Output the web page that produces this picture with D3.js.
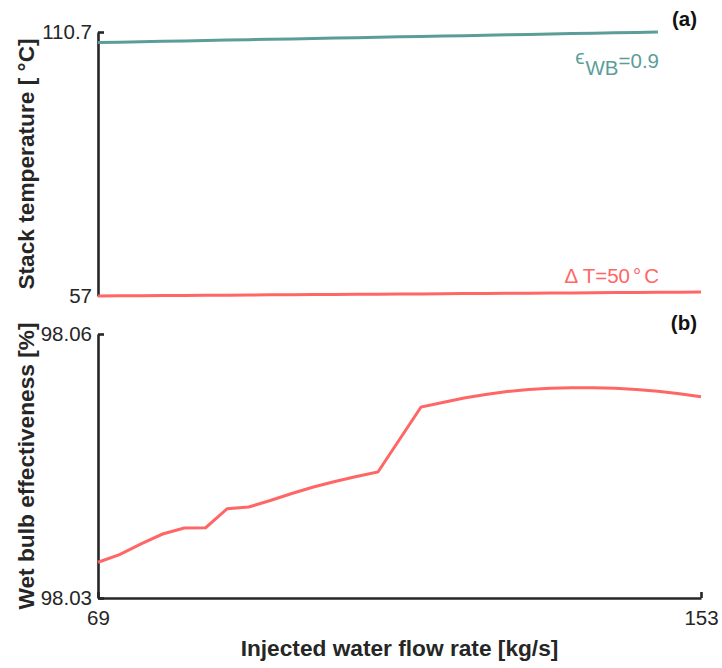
<!DOCTYPE html>
<html>
<head>
<meta charset="utf-8">
<script src="https://cdn.jsdelivr.net/npm/d3@7"></script>
<style>
  html, body { margin: 0; padding: 0; background: #fff; }
  svg { display: block; font-family: "Liberation Sans", Arial, Helvetica, sans-serif; }
</style>
</head>
<body>
<svg id="chart" width="722" height="668"></svg>
<script>
// Injected water flow rate [kg/s]
const flow = [69, 72, 75, 78, 81, 84, 87, 90, 93, 96, 99, 102, 105, 108, 111,
              114, 117, 120, 123, 126, 129, 132, 135, 138, 141, 144, 147, 150, 153];

// Stack temperature [°C] with fixed wet bulb effectiveness (0.9), flow 69..147
const stackTempWB = [108.56, 108.64, 108.72, 108.81, 108.89, 108.97, 109.05, 109.14, 109.22,
                     109.30, 109.38, 109.47, 109.55, 109.63, 109.71, 109.79, 109.88, 109.96,
                     110.04, 110.12, 110.21, 110.29, 110.37, 110.45, 110.54, 110.62, 110.70];

// Stack temperature [°C] with fixed temperature difference (50 °C)
const stackTempDT = [57.00, 57.03, 57.06, 57.09, 57.11, 57.14, 57.17, 57.20, 57.23, 57.26,
                     57.29, 57.31, 57.34, 57.37, 57.40, 57.43, 57.46, 57.49, 57.51, 57.54,
                     57.57, 57.60, 57.63, 57.66, 57.69, 57.71, 57.74, 57.77, 57.80];

// Wet bulb effectiveness [%] with fixed temperature difference
const wetBulbEff = [98.03406, 98.03492, 98.03614, 98.03727, 98.03795, 98.03799, 98.04015, 98.04034,
                    98.04108, 98.04188, 98.04261, 98.04324, 98.04381, 98.04432, 98.04801, 98.05170,
                    98.05222, 98.05273, 98.05313, 98.05347, 98.05369, 98.05383, 98.05389, 98.05390,
                    98.05384, 98.05369, 98.05349, 98.05320, 98.05288];

const xTicks = [69, 153];
const yTopTicks = [57, 110.7];
const yBotTicks = [98.03, 98.06];
const yBotTickLabels = ["98.03", "98.06"];

const teal = "#5b9e99";
const coral = "#ff6666";
const ink = "#262626";

const svg = d3.select("#chart");

const x = d3.scaleLinear().domain([69, 153]).range([98, 701]);
const yTop = d3.scaleLinear().domain([57, 110.7]).range([296, 32]);
const yBot = d3.scaleLinear().domain([98.03, 98.06]).range([598, 334]);

function styleAxis(g) {
  g.select(".domain").attr("stroke", ink).attr("stroke-width", 2.6);
  g.selectAll(".tick line").attr("stroke", ink).attr("stroke-width", 2.6);
  g.selectAll(".tick text").attr("fill", ink).attr("font-size", 20.5);
}

// (a) stack temperature axis
svg.append("g")
  .attr("transform", `translate(${x(69)},0)`)
  .call(d3.axisLeft(yTop).tickValues(yTopTicks).tickSize(-6).tickSizeOuter(0).tickPadding(6)
        .tickFormat(d => String(d)))
  .call(styleAxis)
  .call(g => g.selectAll(".tick").filter(d => d === 57).select("line").remove());

// (b) wet bulb effectiveness axes
svg.append("g")
  .attr("transform", `translate(${x(69)},0)`)
  .call(d3.axisLeft(yBot).tickValues(yBotTicks).tickSize(-6).tickSizeOuter(0).tickPadding(6)
        .tickFormat((d, i) => yBotTickLabels[i]))
  .call(styleAxis);

svg.append("g")
  .attr("transform", `translate(0,${yBot(98.03)})`)
  .call(d3.axisBottom(x).tickValues(xTicks).tickSize(-6).tickSizeOuter(0).tickPadding(12)
        .tickFormat(d => String(d)))
  .call(styleAxis);

// series lines
const lineTopWB = d3.line().x((d, i) => x(flow[i])).y(d => yTop(d));
const lineTopDT = d3.line().x((d, i) => x(flow[i])).y(d => yTop(d));
const lineBot = d3.line().x((d, i) => x(flow[i])).y(d => yBot(d));

svg.append("path").datum(stackTempWB)
  .attr("d", lineTopWB).attr("fill", "none").attr("stroke", teal).attr("stroke-width", 3);
svg.append("path").datum(stackTempDT)
  .attr("d", lineTopDT).attr("fill", "none").attr("stroke", coral).attr("stroke-width", 3);
svg.append("path").datum(wetBulbEff)
  .attr("d", lineBot).attr("fill", "none").attr("stroke", coral).attr("stroke-width", 3)
  .attr("stroke-linejoin", "miter");

// line annotations
const annWB = svg.append("text").attr("x", 659).attr("y", 68)
  .attr("text-anchor", "end").attr("fill", teal).attr("font-size", 20.5);
annWB.append("tspan").text("ϵ").attr("font-size", 21).attr("dy", -4);
annWB.append("tspan").text("WB").attr("dy", 11).attr("dx", 1);
annWB.append("tspan").text("=0.9").attr("dy", -7);

const annDT = svg.append("text").attr("x", 659).attr("y", 283)
  .attr("text-anchor", "end").attr("fill", coral).attr("font-size", 20.5);
annDT.append("tspan").text("Δ T=50");
annDT.append("tspan").text("°").attr("dx", 3);
annDT.append("tspan").text("C").attr("dx", 3);

// panel tags
svg.append("text").attr("x", 697).attr("y", 26).attr("text-anchor", "end")
  .attr("font-size", 20.5).attr("font-weight", "bold").attr("fill", "#111").text("(a)");
svg.append("text").attr("x", 697).attr("y", 330).attr("text-anchor", "end")
  .attr("font-size", 20.5).attr("font-weight", "bold").attr("fill", "#111").text("(b)");

// axis titles
svg.append("text")
  .attr("transform", `translate(34,${(yTop(57) + yTop(110.7)) / 2}) rotate(-90)`)
  .attr("text-anchor", "middle").attr("font-size", 22.7).attr("font-weight", "bold").attr("fill", ink)
  .text("Stack temperature [ °C]");
svg.append("text")
  .attr("transform", `translate(34,${(yBot(98.03) + yBot(98.06)) / 2}) rotate(-90)`)
  .attr("text-anchor", "middle").attr("font-size", 22.7).attr("font-weight", "bold").attr("fill", ink)
  .text("Wet bulb effectiveness [%]");
svg.append("text")
  .attr("x", (x(69) + x(153)) / 2).attr("y", 656)
  .attr("text-anchor", "middle").attr("font-size", 22.7).attr("font-weight", "bold").attr("fill", ink)
  .text("Injected water flow rate [kg/s]");
</script>
</body>
</html>
